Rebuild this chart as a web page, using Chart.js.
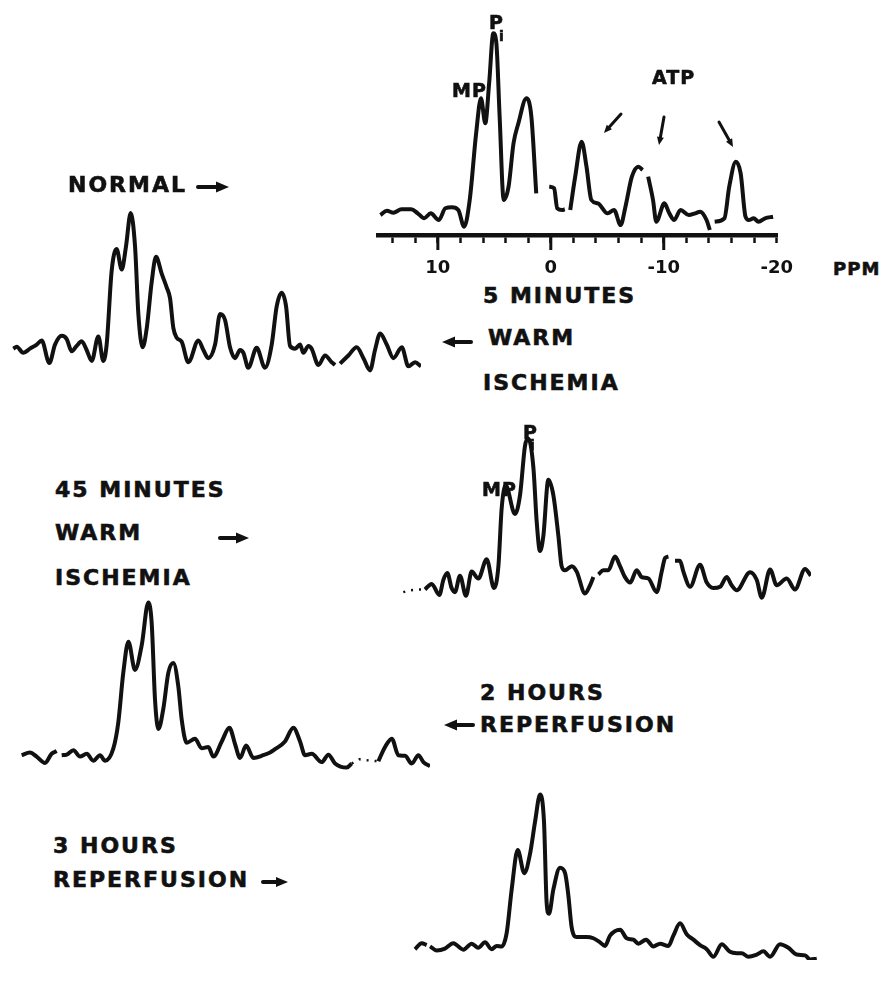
<!DOCTYPE html>
<html>
<head>
<meta charset="utf-8">
<script src="https://cdn.jsdelivr.net/npm/chart.js@4.4.1/dist/chart.umd.min.js"></script>
<style>
    body { margin: 0; background: #fff; width: 886px; height: 1000px; overflow: hidden; position: relative; font-family: "DejaVu Sans", sans-serif; }
    canvas, .lbl, svg { position: absolute; }
    .lbl { font-weight: bold; font-size: 22px; letter-spacing: 2px; line-height: 1; color: #111; white-space: nowrap; -webkit-text-stroke: 0.6px #111; }
    .sm { font-size: 19px; letter-spacing: 1px; }
    .sub { font-size: 14px; letter-spacing: 0; }
</style>
</head>
<body>
<canvas id="c-normal" width="440" height="275" style="left:368px;top:0px"></canvas>
<canvas id="c-warm5" width="440" height="220" style="left:1px;top:200px"></canvas>
<canvas id="c-warm45" width="440" height="225" style="left:391px;top:425px"></canvas>
<canvas id="c-reperf2" width="440" height="230" style="left:10px;top:590px"></canvas>
<canvas id="c-reperf3" width="440" height="215" style="left:403px;top:785px"></canvas>

<div class="lbl" style="left:68px;top:174px">NORMAL</div>
<div class="lbl" style="left:483px;top:285px">5 MINUTES</div>
<div class="lbl" style="left:488px;top:327px">WARM</div>
<div class="lbl" style="left:483px;top:372px">ISCHEMIA</div>
<div class="lbl" style="left:55px;top:479px">45 MINUTES</div>
<div class="lbl" style="left:55px;top:522px">WARM</div>
<div class="lbl" style="left:55px;top:567px">ISCHEMIA</div>
<div class="lbl" style="left:480px;top:682px">2 HOURS</div>
<div class="lbl" style="left:480px;top:714px">REPERFUSION</div>
<div class="lbl" style="left:53px;top:835px">3 HOURS</div>
<div class="lbl" style="left:53px;top:869px">REPERFUSION</div>

<div class="lbl sm" style="left:452px;top:81px">MP</div>
<div class="lbl sm" style="left:489px;top:13px">P</div>
<div class="lbl sub" style="left:499px;top:29px">i</div>
<div class="lbl sm" style="left:652px;top:68px">ATP</div>
<div class="lbl sm" style="left:482px;top:480px">MP</div>
<div class="lbl sm" style="left:523px;top:423px">P</div>
<div class="lbl sub" style="left:530px;top:438px">i</div>
<div class="lbl sm" style="left:833px;top:260px;font-size:18px">PPM</div>

<svg id="marks" width="886" height="1000" style="left:0;top:0;pointer-events:none"></svg>

<script>
// ppm axis (shared by all five spectra)
const ppmMax = 15.3
const ppmMin = -20.1
const majorTicks = [10, 0, -10]

// NORMAL (top, with axis)
const normalPpm = [15.09, 14.51, 13.94, 13.22, 12.36, 11.78, 11.21, 10.63, 9.91, 9.34,
    8.76, 8.19, 7.67, 7.18, 6.61, 6.18, 5.80, 5.46, 5.09, 4.82,
    4.53, 4.17, 3.74, 3.30, 2.87, 2.16, 1.72, 1.29, 0.7, 0.14,
    -0.29, -0.57, -1.01, -1.24, -1.5, -1.72, -2.16, -2.73, -3.16, -3.59,
    -4.17, -5.03, -5.60, -6.18, -6.61, -7.18, -7.76, -8.13, -8.4, -8.62,
    -9.05, -9.34, -10.06, -10.49, -10.92, -11.49, -12.21, -12.79, -13.22, -13.79,
    -14.08, -14.3, -14.51, -15.37, -15.80, -16.38, -16.81, -17.24, -17.53, -17.96,
    -18.39, -18.97, -19.68]
const normalVal = [20, 24.3, 22.3, 25.7, 25.7, 21.7, 16.7, 21.7, 15, 26.7,
    27.7, 25, 8.3, 35, 101.7, 136.7, 111.7, 151.7, 201.7, 191.7,
    118.3, 35, 48.3, 91.7, 111.7, 136.7, 118.3, 41.7, null, 48.3,
    46.7, 26.7, 25, 25.7, null, 25, 58.3, 93.3, 68.3, 35,
    31.7, 21.7, 25, 10, 28.3, 58.3, 68.3, 65, null, 58.3,
    35, 13.3, 31.7, 21.7, 15, 25, 20, 21.7, 23.3, 15,
    5, null, 13.3, 16.7, 48.3, 73.3, 61.7, 18.3, 15, 16.7,
    13.3, 16.7, 18.3]

// 5 MINUTES WARM ISCHEMIA
const warm5Ppm = [15.10, 14.81, 14.24, 13.66, 13.08, 12.65, 11.99, 11.50, 10.92, 10.49,
    10.06, 9.63, 9.20, 8.77, 8.33, 7.76, 7.33, 7.04, 6.61, 6.18,
    5.74, 5.37, 4.97, 4.59, 4.30, 3.93, 3.58, 3.15, 2.78, 2.29,
    1.86, 1.57, 1.28, 0.99, 0.56, -0.01, -0.88, -1.31, -1.74, -2.32,
    -2.75, -3.18, -3.61, -4.04, -4.48, -4.76, -5.19, -5.91, -6.63, -7.21,
    -7.64, -8.07, -8.45, -8.79, -9.23, -9.66, -9.94, -10.38, -10.66, -11.24,
    -11.82, -12.39, -12.68, -12.9, -13.11, -13.83, -14.55, -15.13, -15.70, -16.13,
    -16.57, -17.14, -17.72, -18.44, -19.01, -19.59, -20.1]
const warm5Val = [38.3, 40.7, 33.3, 38.3, 43.3, 48.3, 20.7, 43.3, 54, 50,
    35, 41.7, 47.3, 36.7, 23.3, 53.3, 23.3, 43.3, 133.3, 160,
    135, 163.3, 204, 163.3, 80, 40, 63.3, 120, 150.7, 130,
    113.3, 100, 63.3, 51.7, 46.7, 21.7, 48.3, 36.7, 26.7, 43.3,
    80.7, 73.3, 40, 26.7, 36.7, 33.3, 15, 39.3, 15, 43.3,
    90, 106.7, 90, 41.7, 38.3, 43.3, 33.3, 41.7, 38.3, 18.3,
    30, 21.7, 18.3, null, 20, 30, 40, 26.7, 11.7, 36.7,
    56.7, 43.3, 26.7, 40, 16.7, 21.7, 16.7]

// 45 MINUTES WARM ISCHEMIA
const warm45Ppm = [13.23, 12.65, 11.99, 11.64, 11.30, 10.93, 10.64, 10.21, 9.69, 9.20,
    8.62, 7.90, 7.27, 6.89, 6.61, 6.26, 5.46, 5.02, 4.59, 4.30,
    3.87, 3.58, 3.30, 3.01, 2.58, 2.15, 1.71, 1.43, 1.14, 0.56,
    0.13, -0.59, -1.02, -1.31, -1.5, -1.74, -2.17, -2.60, -3.18, -3.61,
    -4.04, -4.48, -5.05, -5.48, -6.06, -6.78, -7.21, -7.50, -7.79, -8.1,
    -8.36, -8.79, -9.08, -9.66, -10.52, -11.10, -11.67, -12.25, -12.82, -13.25,
    -13.69, -14.84, -15.41, -15.85, -16.57, -17.14, -18.00, -18.72, -19.59, -20.08]
const warm45Val = [25, 31.7, 18.3, 36.7, 45, 26.7, 21.7, 41.7, 17.3, 46.7,
    38.3, 61.7, 26.7, 53.3, 123.3, 151.7, 116.7, 140, 200, 208.3,
    173.3, 106.7, 71.7, 90, 158.3, 140, 90, 53.3, 48.3, 53.3,
    46.7, 20, 30, 40, null, 43.3, 48.3, 48.3, 65, 53.3,
    40, 33.3, 48.3, 40, 38.3, 21.7, 46.7, 63.3, 65, null,
    60, 60, 46.7, 28.3, 55, 33.3, 26.7, 28.3, 40, 30,
    24, 46, 36.7, 15, 49.3, 30, 38.3, 25, 50, 41.7]
const warm45DotPpm = [15.1, 14.5, 13.9, 13.23]
const warm45DotVal = [21.7, 24, 25, 25]

// 2 HOURS REPERFUSION
const reperf2Ppm = [15.16, 14.44, 13.86, 13.14, 12.57, 12.13, 11.9, 11.70, 11.27, 10.69,
    10.12, 9.54, 8.97, 8.39, 7.96, 7.24, 6.81, 6.38, 5.94, 5.37,
    4.79, 4.22, 3.93, 3.64, 3.35, 2.92, 2.49, 2.06, 1.63, 1.34,
    0.91, 0.19, -0.39, -0.96, -1.40, -2.12, -2.78, -3.27, -3.70, -4.22,
    -4.85, -5.71, -6.29, -6.72, -7.58, -8.30, -8.88, -9.31, -9.89, -10.75,
    -11.33, -11.90, -12.91, -13.34, -14.5, -15.64, -16.22, -16.80, -17.37, -17.95,
    -18.52, -19.10, -19.53, -20.1]
const reperf2Val = [30, 33.3, 28.3, 20.7, 31.7, 35, null, 30, 30.7, 36,
    28.3, 31.7, 23.3, 30, 23.3, 38.3, 70, 130, 167.3, 133.3,
    163.3, 215, 190, 96.7, 61.7, 86.7, 130, 141.7, 113.3, 73.3,
    45, 50, 38.3, 40, 28.3, 46.7, 63.3, 43.3, 26.7, 41.7,
    26.7, 30, 33.3, 37.3, 46.7, 63.3, 46.7, 30, 31.7, 21.7,
    30.7, 20, 15, 20, null, 22.7, 40, 50, 30, 29.3,
    20, 30, 21.7, 16.7]
const reperf2DotPpm = [-13.34, -14.0, -14.6, -15.64]
const reperf2DotVal = [20, 25, 24, 22.7]

// 3 HOURS REPERFUSION
const reperf3Ppm = [15.13, 14.55, 14.12, 13.98, 13.83, 13.26, 12.54, 11.82, 10.95, 10.23,
    9.66, 9.08, 8.51, 8.07, 7.64, 7.21, 6.78, 6.26, 5.69, 5.20,
    4.76, 4.33, 3.99, 3.76, 3.56, 3.18, 2.61, 2.17, 1.89, 1.60,
    1.17, 0.30, -0.27, -0.85, -1.28, -1.71, -2.58, -3.15, -3.73, -4.16,
    -4.82, -5.45, -6.03, -6.75, -7.18, -7.76, -8.33, -8.91, -9.48, -10.06,
    -10.64, -11.36, -12.07, -12.65, -13.08, -13.66, -14.38, -14.95, -15.53, -16.39,
    -17.11, -17.83, -18.55, -18.98, -19.56]
const reperf3Val = [13.3, 20.7, 18.3, null, 16.7, 11.7, 14, 20.7, 12.7, 20,
    15, 21.7, 13.3, 17.3, 16.7, 33.3, 86.7, 135, 106.7, 130,
    170, 203.3, 170, 70, 56.7, 86.7, 113.3, 106.7, 80, 40,
    28.3, 28.3, 26.7, 21.7, 17.3, 30, 37.3, 26.7, 25, 20,
    25, 16.7, 20, 17.3, 30, 45, 31.7, 25, 18.3, 13.3,
    4, 19.3, 10, 8.3, 8.3, 4, 6.7, 10.7, 4, 19.3,
    15, 6.7, 5.7, 0.7, 1.7]

const ink = '#111'

function toPoints(xs, ys) {
    return xs.map((x, i) => ({ x: x, y: ys[i] }))
}

const majorTickPlugin = {
    id: 'majorTicks',
    afterDraw(chart) {
        const s = chart.scales.x
        const c = chart.ctx
        c.save()
        c.strokeStyle = ink
        c.lineWidth = 3
        majorTicks.forEach(v => {
            const x = s.getPixelForValue(v)
            c.beginPath()
            c.moveTo(x, s.top)
            c.lineTo(x, s.top + 15)
            c.stroke()
        })
        c.restore()
    }
}

function spectrum(id, ppm, val, yMax, withAxis, dotPpm, dotVal) {
    const datasets = [{
        data: toPoints(ppm, val),
        borderColor: ink,
        borderWidth: 4,
        pointRadius: 0,
        fill: false,
        cubicInterpolationMode: 'monotone'
    }]
    if (dotPpm) {
        datasets.push({
            data: toPoints(dotPpm, dotVal),
            borderColor: ink,
            borderWidth: 2.5,
            borderDash: [2, 6],
            pointRadius: 0,
            fill: false
        })
    }
    new Chart(document.getElementById(id), {
        type: 'line',
        data: { datasets: datasets },
        options: {
            responsive: false,
            animation: false,
            events: [],
            layout: { padding: { left: 10, right: 20, top: 0, bottom: 0 } },
            plugins: { legend: { display: false }, tooltip: { enabled: false } },
            scales: {
                x: {
                    type: 'linear',
                    reverse: true,
                    min: ppmMin,
                    max: ppmMax,
                    display: withAxis,
                    afterFit: s => { s.height = 40 },
                    border: { display: true, color: ink, width: 4.5 },
                    grid: { drawOnChartArea: false, drawTicks: true, tickLength: 8, tickWidth: 2.5, tickColor: ink },
                    ticks: {
                        stepSize: 2,
                        autoSkip: false,
                        maxRotation: 0,
                        minRotation: 0,
                        includeBounds: false,
                        padding: 15,
                        color: ink,
                        font: { family: 'DejaVu Sans', weight: 'bold', size: 18 },
                        callback: v => Math.abs(v % 10) < 1e-6 ? String(Math.round(v)) : ''
                    }
                },
                y: { display: false, min: 0, max: yMax }
            }
        },
        plugins: withAxis ? [majorTickPlugin] : []
    })
}

spectrum('c-normal', normalPpm, normalVal, 235, true)
spectrum('c-warm5', warm5Ppm, warm5Val, 220, false)
spectrum('c-warm45', warm45Ppm, warm45Val, 225, false, warm45DotPpm, warm45DotVal)
spectrum('c-reperf2', reperf2Ppm, reperf2Val, 230, false, reperf2DotPpm, reperf2DotVal)
spectrum('c-reperf3', reperf3Ppm, reperf3Val, 215, false)

// pointer arrows next to the labels and under ATP
const svg = document.getElementById('marks')
const NS = 'http://www.w3.org/2000/svg'
function arrow(x1, y1, x2, y2, w, headLen, headHalf) {
    const dx = x2 - x1, dy = y2 - y1
    const len = Math.hypot(dx, dy)
    const ux = dx / len, uy = dy / len
    const bx = x2 - ux * headLen, by = y2 - uy * headLen
    const line = document.createElementNS(NS, 'line')
    line.setAttribute('x1', x1); line.setAttribute('y1', y1)
    line.setAttribute('x2', bx); line.setAttribute('y2', by)
    line.setAttribute('stroke', ink); line.setAttribute('stroke-width', w)
    line.setAttribute('stroke-linecap', 'round')
    svg.appendChild(line)
    const head = document.createElementNS(NS, 'polygon')
    const pts = [[x2, y2], [bx - uy * headHalf, by + ux * headHalf], [bx + uy * headHalf, by - ux * headHalf]]
    head.setAttribute('points', pts.map(p => p.join(',')).join(' '))
    head.setAttribute('fill', ink)
    svg.appendChild(head)
}
arrow(198, 187, 229, 187, 4, 13, 5.5)
arrow(471, 342, 442, 342, 4, 13, 5.5)
arrow(220, 538, 249, 538, 4, 13, 5.5)
arrow(473, 725, 444, 725, 4, 13, 5.5)
arrow(263, 882, 288, 882, 4, 12, 5)
arrow(621, 114, 604, 133, 3, 8, 3.5)
arrow(664, 117, 659, 145, 3, 8, 3.5)
arrow(719, 122, 733, 147, 3, 8, 3.5)
</script>
</body>
</html>
